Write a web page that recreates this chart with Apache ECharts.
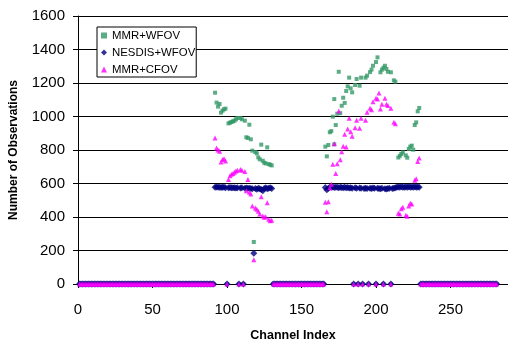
<!DOCTYPE html>
<html>
<head>
<meta charset="utf-8">
<script src="https://cdn.jsdelivr.net/npm/echarts@6/dist/echarts.min.js"></script>
<style>
  html, body { margin: 0; padding: 0; background: #fff; }
  #obs-chart { width: 508px; height: 339px; }
</style>
</head>
<body>
<div id="obs-chart"></div>
<script>
// channels where all three counts are zero
const zeroChannels = [
  1, 2, 3, 4, 5, 6, 7, 8, 9, 10, 11, 12, 13, 14, 15, 16, 17, 18, 19, 20,
  21, 22, 23, 24, 25, 26, 27, 28, 29, 30, 31, 32, 33, 34, 35, 36, 37, 38, 39, 40,
  41, 42, 43, 44, 45, 46, 47, 48, 49, 50, 51, 52, 53, 54, 55, 56, 57, 58, 59, 60,
  61, 62, 63, 64, 65, 66, 67, 68, 69, 70, 71, 72, 73, 74, 75, 76, 77, 78, 79, 80,
  81, 82, 83, 84, 85, 86, 87, 88, 89, 90, 91, 100, 108, 111,
  131, 132, 133, 134, 135, 136, 137, 138, 139, 140, 141, 142, 143, 144, 145, 146, 147, 148,
  149, 150, 151, 152, 153, 154, 155, 156, 157, 158, 159, 160, 161, 162, 163, 164, 165,
  185, 188, 191, 195, 200, 205, 210,
  230, 231, 232, 233, 234, 235, 236, 237, 238, 239, 240, 241, 242, 243, 244, 245, 246, 247,
  248, 249, 250, 251, 252, 253, 254, 255, 256, 257, 258, 259, 260, 261, 262, 263, 264, 265,
  266, 267, 268, 269, 270, 271, 272, 273, 274, 275, 276, 277, 278, 279, 280, 281
];

// [channel, observations]
const mmrWfov = [
  [92, 1142], [93, 1083], [94, 1059], [95, 1075], [96, 1023], [97, 1035], [98, 1043], [99, 1047],
  [101, 959], [102, 963], [103, 967], [104, 971], [105, 975], [106, 983], [107, 991], [109, 991],
  [110, 983], [112, 975], [113, 876], [114, 872], [115, 951], [116, 864], [117, 796], [118, 251],
  [119, 788], [120, 780], [121, 756], [122, 744], [123, 832], [124, 736], [125, 724], [126, 720],
  [127, 816], [128, 716], [129, 712], [130, 708],
  [166, 820], [167, 762], [168, 830], [169, 906], [170, 913], [171, 999], [172, 834], [172, 1104],
  [173, 949], [174, 1017], [175, 1267], [176, 1020], [177, 1064], [178, 1112], [179, 1081],
  [180, 1152], [181, 1180], [182, 1232], [183, 1168], [184, 1144], [186, 1188], [187, 1224],
  [189, 1184], [190, 1232], [193, 1232], [194, 1244], [196, 1265], [197, 1280], [198, 1303],
  [200, 1325], [201, 1353], [203, 1264], [204, 1280], [205, 1291], [206, 1303], [207, 1284],
  [208, 1267], [210, 1264], [212, 1216], [213, 1208], [215, 755], [216, 765], [217, 776],
  [218, 786], [220, 768], [221, 754], [222, 806], [223, 820], [224, 826], [225, 802],
  [226, 949], [227, 965], [228, 1031], [229, 1051]
];

const nesdisWfov = [
  [92, 578], [93, 579], [94, 577], [95, 578], [96, 576], [97, 578], [98, 577], [99, 575],
  [101, 574], [102, 576], [103, 575], [104, 574], [105, 575], [106, 573], [107, 574], [109, 573],
  [110, 574], [112, 572], [113, 573], [114, 571], [115, 572], [116, 570], [117, 568], [118, 183],
  [119, 570], [120, 566], [121, 572], [122, 569], [123, 564], [124, 556], [125, 570], [126, 574],
  [127, 568], [128, 572], [129, 575], [130, 570],
  [166, 576], [167, 562], [168, 572], [169, 578], [170, 577], [171, 579], [172, 576], [173, 578],
  [174, 577], [175, 575], [176, 578], [177, 576], [178, 575], [179, 577], [180, 574], [181, 576],
  [182, 573], [183, 575], [184, 572], [186, 574], [187, 572], [189, 573], [190, 571], [192, 570],
  [193, 572], [194, 570], [196, 572], [197, 570], [198, 573], [199, 571], [201, 572], [202, 570],
  [203, 568], [204, 571], [206, 569], [207, 567], [208, 570], [209, 572], [211, 570], [212, 572],
  [213, 575], [214, 577], [215, 579], [216, 578], [217, 580], [218, 578], [219, 577], [220, 579],
  [221, 578], [222, 580], [223, 577], [224, 579], [225, 578], [226, 580], [227, 578], [228, 579],
  [229, 577]
];

const mmrCfov = [
  [92, 872], [93, 812], [94, 800], [95, 792], [96, 728], [97, 744], [98, 748], [99, 735],
  [101, 624], [102, 647], [103, 655], [104, 660], [105, 667], [106, 675], [107, 679], [109, 683],
  [110, 679], [112, 671], [113, 556], [114, 624], [115, 548], [116, 537], [117, 466], [118, 145],
  [119, 454], [120, 446], [121, 434], [122, 418], [123, 521], [124, 406], [125, 398], [126, 402],
  [127, 485], [128, 386], [129, 378], [130, 380],
  [166, 488], [167, 432], [168, 491], [169, 575], [170, 595], [171, 715], [172, 838], [173, 659],
  [174, 718], [175, 1033], [176, 742], [177, 790], [178, 822], [179, 894], [180, 818], [181, 925],
  [182, 989], [183, 909], [184, 882], [186, 933], [187, 977], [189, 930], [190, 989], [193, 977],
  [194, 1025], [196, 1049], [197, 1041], [198, 1088], [200, 1109], [201, 1104], [202, 1140],
  [203, 1045], [204, 1073], [206, 1109], [207, 1073], [208, 1065], [210, 1049], [212, 965],
  [213, 957], [215, 422], [216, 418], [217, 450], [218, 458], [220, 410], [221, 404], [222, 466],
  [223, 482], [224, 478], [226, 620], [227, 628], [228, 732], [229, 752]
];

const yTicks = [0, 200, 400, 600, 800, 1000, 1200, 1400, 1600];

let chartDom = document.getElementById('obs-chart');
let chart = echarts.init(chartDom, null, { renderer: 'canvas' });

const fontFamily = 'Liberation Sans, Arial, sans-serif';

function withZeros(points) {
  return zeroChannels.map(function (c) { return [c, 0]; }).concat(points);
}

let option = {
  animation: false,
  backgroundColor: '#ffffff',
  textStyle: { fontFamily: fontFamily, color: '#000' },
  grid: {
    left: 78,
    right: 0,
    top: 16,
    bottom: 55,
    containLabel: false,
    outerBoundsMode: 'none'
  },
  legend: {
    orient: 'vertical',
    left: 97,
    top: 27,
    padding: [3, 1, 2, 4],
    itemGap: 6,
    itemWidth: 6,
    itemHeight: 6,
    borderColor: '#000',
    borderWidth: 1,
    backgroundColor: '#fff',
    textStyle: { fontFamily: fontFamily, fontSize: 11.4, color: '#000' },
    data: [
      { name: 'MMR+WFOV', icon: 'rect' },
      { name: 'NESDIS+WFOV', icon: 'diamond' },
      { name: 'MMR+CFOV', icon: 'triangle' }
    ]
  },
  xAxis: {
    type: 'value',
    min: 0,
    max: 288.6,
    interval: 50,
    name: 'Channel Index',
    nameLocation: 'middle',
    nameGap: 45,
    nameTextStyle: { fontFamily: fontFamily, fontSize: 12.5, fontWeight: 'bold', color: '#000' },
    axisLine: { show: true, lineStyle: { color: '#000', width: 1 } },
    axisTick: { show: true, length: 4, lineStyle: { color: '#000' } },
    axisLabel: {
      margin: 18, fontSize: 15, color: '#000', showMaxLabel: false,
      formatter: function (v) { return String(v); }
    },
    splitLine: { show: false }
  },
  yAxis: {
    type: 'value',
    min: yTicks[0],
    max: yTicks[yTicks.length - 1],
    interval: 200,
    name: 'Number of Observations',
    nameLocation: 'middle',
    nameGap: 58,
    nameTextStyle: { fontFamily: fontFamily, fontSize: 12, fontWeight: 'bold', color: '#000' },
    axisLine: { show: true, lineStyle: { color: '#000', width: 1 } },
    axisTick: { show: true, length: 5, lineStyle: { color: '#000' } },
    axisLabel: {
      margin: 13, fontSize: 15, color: '#000',
      formatter: function (v) { return String(v); }
    },
    splitLine: { show: true, lineStyle: { color: '#000', width: 1 } }
  },
  series: [
    {
      name: 'MMR+WFOV',
      type: 'scatter',
      symbol: 'rect',
      symbolSize: 4,
      itemStyle: { color: '#339966' },
      data: withZeros(mmrWfov)
    },
    {
      name: 'NESDIS+WFOV',
      type: 'scatter',
      symbol: 'diamond',
      symbolSize: [7, 7],
      itemStyle: { color: '#000080' },
      data: withZeros(nesdisWfov)
    },
    {
      name: 'MMR+CFOV',
      type: 'scatter',
      symbol: 'triangle',
      symbolSize: 5,
      itemStyle: { color: '#ff00ff' },
      data: withZeros(mmrCfov)
    }
  ]
};

option && chart.setOption(option);
</script>
</body>
</html>
